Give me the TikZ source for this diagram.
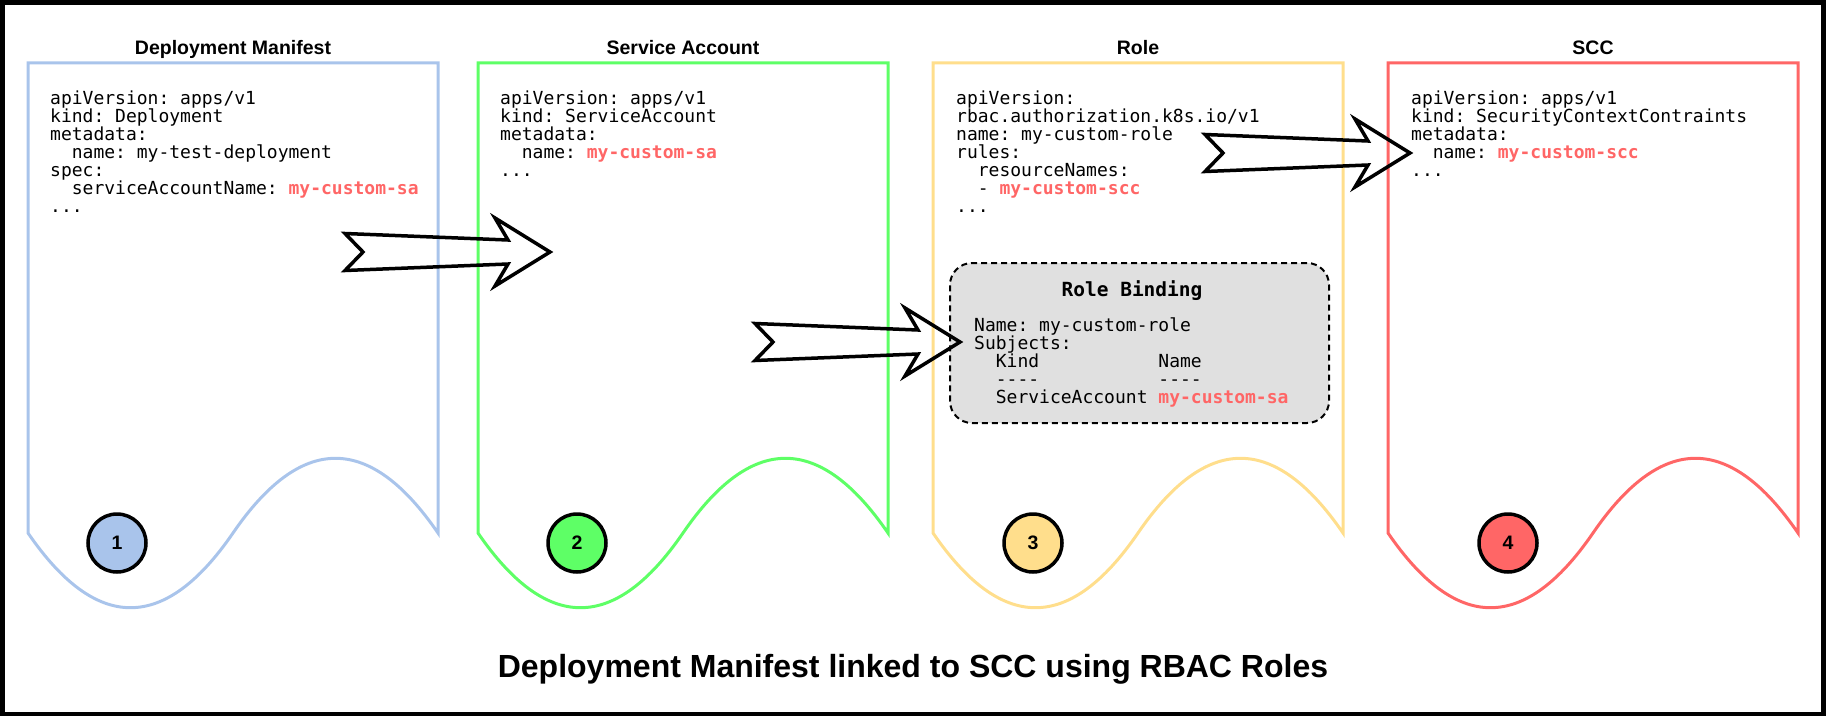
\documentclass[tikz,border=0pt]{standalone}
\usepackage{fontspec}
\setmainfont{Liberation Sans}
\setmonofont{DejaVu Sans Mono}
\usepackage{tikz}
\usetikzlibrary{calc}
\definecolor{dmblue}{HTML}{A9C4EB}
\definecolor{sagreen}{HTML}{5EFF66}
\definecolor{roleyellow}{HTML}{FFDE8C}
\definecolor{sccred}{HTML}{FF6666}
\definecolor{rbgray}{HTML}{E0E0E0}
\newcommand\ind{\hphantom{xx}}
\newcommand\hl[1]{\textcolor{sccred}{\bfseries #1}}
\newcommand\fatarrow[2]{\draw[fatline] ($(#1)+(0,-18.5)$) -- ($(#1)+(18,0)$) -- ($(#1)+(0,18.5)$) -- ($(#2)+(-42,12)$) -- ($(#2)+(-55,34)$) -- (#2) -- ($(#2)+(-55,-34)$) -- ($(#2)+(-42,-12)$) -- cycle;}
\tikzset{
  docline/.style={line width=3},
  boxtitle/.style={font=\fontsize{19.5}{22}\selectfont\bfseries, anchor=base, inner sep=0},
  code/.style={font=\fontsize{18}{18}\selectfont\ttfamily\frenchspacing, align=left, anchor=north west, inner sep=0},
  numcirc/.style={circle, draw, line width=3.5, minimum size=58, inner sep=0, font=\fontsize{19.5}{22}\selectfont\bfseries},
  fatline/.style={line width=3.5, line join=miter},
}
\lineskiplimit=-10pt
\begin{document}
\begin{tikzpicture}[x=1pt,y=-1pt]
\useasboundingbox (0,0) rectangle (1826,717);
\draw[line width=4.5] (2.5,2.5) rectangle (1823.5,714);
% the four documents
\foreach \x/\col/\title/\cx [count=\i] in {28/dmblue/Deployment Manifest/117, 478/sagreen/Service Account/577, 933/roleyellow/Role/1033, 1388/sccred/SCC/1508} {
  \draw[docline, draw=\col] (\x,63) -- (\x+410,63) -- (\x+410,533)
    .. controls (\x+341.7,433.4) and (\x+273.3,433.4) .. (\x+205,533)
    .. controls (\x+136.7,632.6) and (\x+68.3,632.6) .. (\x,533) -- cycle;
  \node[boxtitle] (title\i) at (\x+205,55) {\title};
  \node[numcirc, fill=\col] (num\i) at (\cx,543) {\i};
}
\node[code] (dm) at (50,91) {apiVersion: apps/v1\\
kind: Deployment\\
metadata:\\
\ind name: my-test-deployment\\
spec:\\
\ind serviceAccountName: \hl{my-custom-sa}\\
...};
\node[code] (sa) at (500,91) {apiVersion: apps/v1\\
kind: ServiceAccount\\
metadata:\\
\ind name: \hl{my-custom-sa}\\
...};
\node[code] (role) at (956,91) {apiVersion:\\
rbac.authorization.k8s.io/v1\\
name: my-custom-role\\
rules:\\
\ind resourceNames:\\
\ind - \hl{my-custom-scc}\\
...};
\node[code] (scc) at (1411,91) {apiVersion: apps/v1\\
kind: SecurityContextContraints\\
metadata:\\
\ind name: \hl{my-custom-scc}\\
...};
% role binding
\node[draw, dashed, dash pattern=on 6pt off 4pt, line width=2, rounded corners=22, fill=rbgray, minimum width=379, minimum height=160] (rb) at (1139.5,343) {};
\node[font=\fontsize{19.5}{20}\selectfont\ttfamily\bfseries, anchor=base, inner sep=0] (rbtitle) at (1132,296) {Role Binding};
\node[code] (rbtext) at (974,317.5) {Name: my-custom-role\\
Subjects:\\
\ind Kind\hphantom{xxxxxxxxxxx}Name\\
\ind ----\hphantom{xxxxxxxxxxx}----\\
\ind ServiceAccount \hl{my-custom-sa}};
% links
\coordinate (from1) at (345,252);
\coordinate (to1) at (550,252);
\coordinate (from2) at (755,342);
\coordinate (to2) at (960,342);
\coordinate (from3) at (1205,153);
\coordinate (to3) at (1410,153);
\fatarrow{from1}{to1}
\fatarrow{from2}{to2}
\fatarrow{from3}{to3}
\node[font=\fontsize{32}{36}\selectfont\bfseries, anchor=base, inner sep=0] (caption) at (913,677) {Deployment Manifest linked to SCC using RBAC Roles};
\end{tikzpicture}
\end{document}
